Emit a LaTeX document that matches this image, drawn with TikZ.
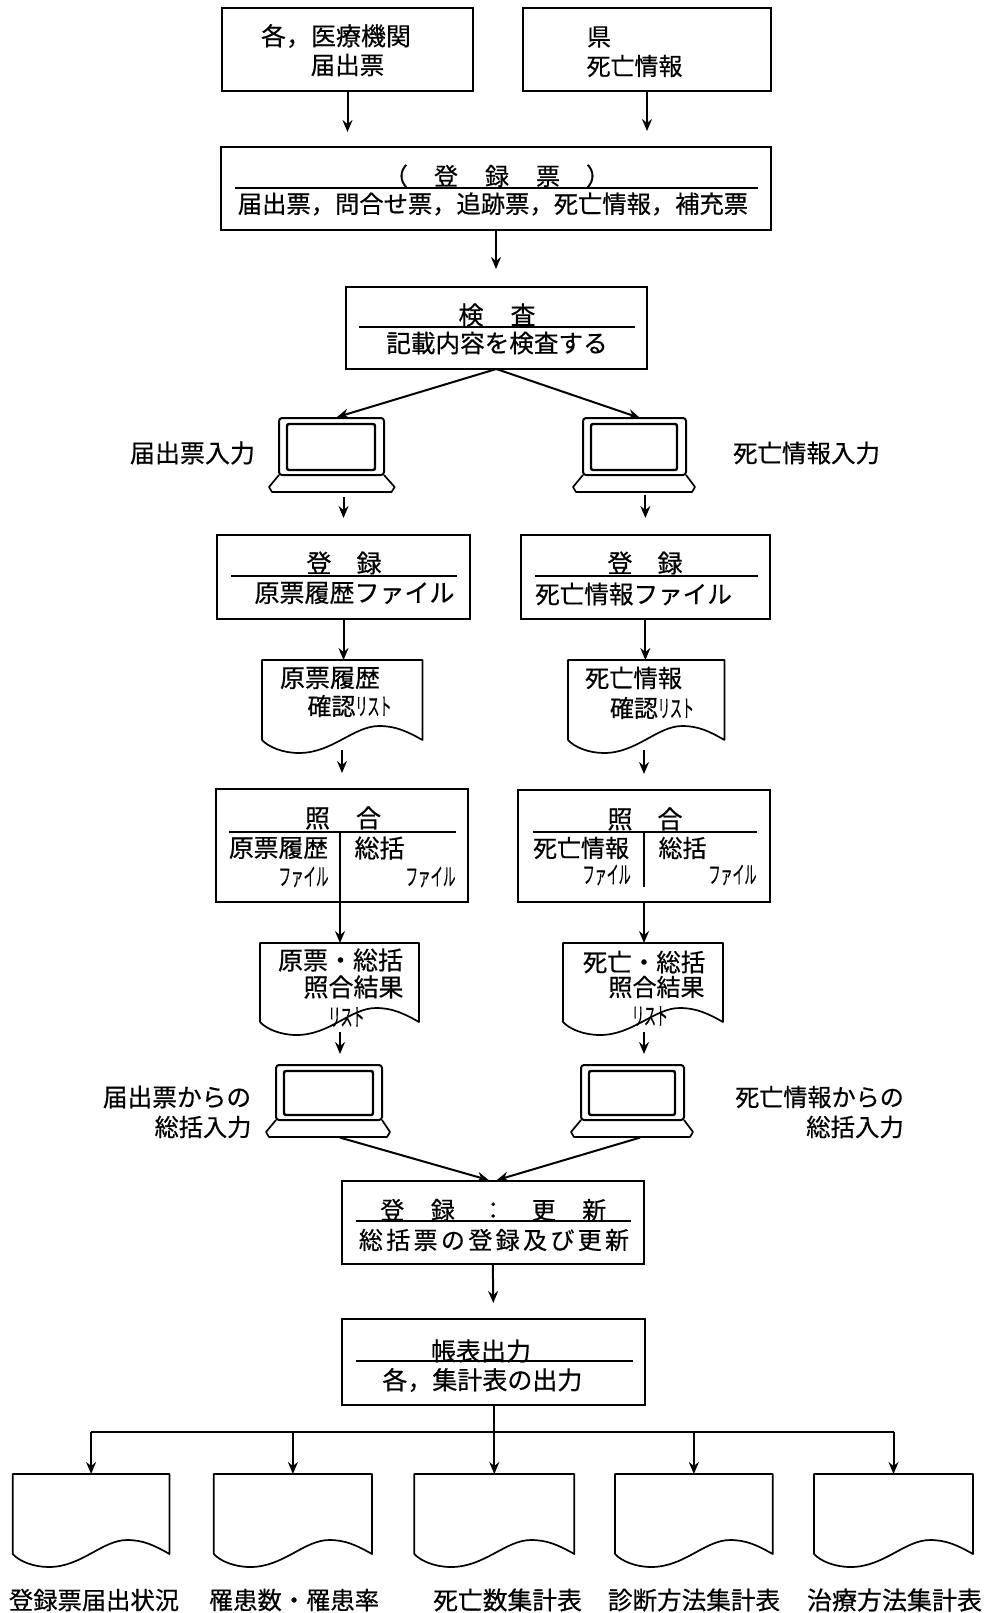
\documentclass[tikz,border=0pt]{standalone}
\usepackage{fontspec}
\usepackage{graphicx}
\setmainfont{Noto Sans CJK JP}[FakeBold=0.5]
\usetikzlibrary{arrows.meta,calc}
\newcommand{\fs}[1]{\fontsize{#1pt}{#1pt}\selectfont}
\newcommand{\nar}[2]{\scalebox{#1}[1]{#2}}
\newcommand{\gp}[1]{\hspace{#1pt}}
\newcommand{\bx}[5]{%
  \pgfmathsetmacro\myw{#3-#2}\pgfmathsetmacro\myh{#5-#4}%
  \node[box,minimum width=\myw pt,minimum height=\myh pt,anchor=north west] (#1) at (#2,#4) {};}
\newcommand{\docnode}[5]{%
  \pgfmathsetmacro\myw{#3-#2}\pgfmathsetmacro\myh{#5-#4+10}\pgfmathsetmacro\myr{(#3-#2)/100}\pgfmathsetmacro\myt{#4-#5}%
  \node[inner sep=0pt,outer sep=0pt,minimum width=\myw pt,minimum height=\myh pt,anchor=north west] (#1) at (#2,#4) {};
  \begin{scope}[shift={(#2,#5)},xscale=\myr]
    \draw[docline] (0,0) -- (0,\myt) -- (100,\myt) -- (100,0)
      .. controls (90,-9) and (83,-14) .. (73,-14)
      .. controls (57,-14) and (44,13) .. (23,13)
      .. controls (13,13) and (4,7) .. (0,0);
  \end{scope}}
\newcommand{\pcnode}[7]{% name x1 x2 top h bx1 bx2
  \pgfmathsetmacro\myw{#3-#2}\pgfmathsetmacro\mysw{#3-#2-17}\pgfmathsetmacro\mysh{#5-11}%
  \pgfmathsetmacro\mym{#4+#5}\pgfmathsetmacro\myma{#4+#5+12}\pgfmathsetmacro\mymb{#4+#5+17}\pgfmathsetmacro\myc{(#2+#3)/2}%
  \pgfmathsetmacro\myl{#6+3}\pgfmathsetmacro\myrr{#7-3}\pgfmathsetmacro\mysx{#2+8}\pgfmathsetmacro\mysy{#4+6}%
  \node[monitor,minimum width=\myw pt,minimum height=#5 pt,anchor=north west] (#1) at (#2,#4) {};
  \node[screen,minimum width=\mysw pt,minimum height=\mysh pt,anchor=north west] (#1s) at (\mysx,\mysy) {};
  \draw[pcline] (#2,\mym) -- (#6,\myma) -- (\myl,\mymb) -- (\myrr,\mymb) -- (#7,\myma) -- (#3,\mym);
  \coordinate (#1b) at (\myc,\mymb);}
\tikzset{
  box/.style={draw=black,line width=2pt,inner sep=0pt,outer sep=0pt,fill=white},
  monitor/.style={draw=black,line width=2pt,inner sep=0pt,outer sep=0pt,rounded corners=3pt},
  screen/.style={draw=black,line width=2.4pt,inner sep=0pt,outer sep=0pt,rounded corners=2pt},
  pcline/.style={draw=black,line width=1.7pt,line join=round},
  docline/.style={draw=black,line width=1.7pt,line join=round},
  inrule/.style={draw=black,line width=1.6pt},
  wire/.style={draw=black,line width=2pt},
  arr/.style={draw=black,line width=2pt,-{Stealth[length=12pt,width=10pt,inset=4pt]}},
  jp/.style={inner sep=0pt,outer sep=0pt,anchor=center,text=black}
}
\begin{document}
\begin{tikzpicture}[x=1pt,y=-1pt]
\useasboundingbox[fill=white] (0,0) rectangle (991,1613);
% boxes
\bx{A}{222}{473}{8}{91}
\bx{B}{523}{771}{8}{91}
\bx{C}{221}{771}{147}{230}
\bx{D}{345.6}{647}{287}{369}
\bx{E}{217}{470}{535}{619}
\bx{F}{520.7}{770}{535}{619}
\bx{I}{216}{468}{789}{902}
\bx{J}{518}{770}{790}{902}
\bx{M}{341.6}{644}{1181}{1264}
\bx{N}{342}{645}{1319}{1405}
% documents
\docnode{G}{262}{422.5}{660}{740}
\docnode{H}{568}{724.5}{660}{740}
\docnode{K}{260}{419}{943}{1022}
\docnode{L}{563}{723}{943}{1022}
\docnode{P1}{12.7}{169.5}{1474}{1554}
\docnode{P2}{213.8}{372}{1474}{1554}
\docnode{P3}{414.3}{574.3}{1474}{1554}
\docnode{P4}{615}{772.7}{1474}{1554}
\docnode{P5}{814}{973}{1474}{1554}
% terminals
\pcnode{PCa}{279}{384}{418}{57}{269}{394.6}
\pcnode{PCb}{583}{686}{418}{57}{573}{695}
\pcnode{PCc}{276}{382}{1065}{55}{266}{390}
\pcnode{PCd}{581}{684}{1065}{55}{571}{693}
% inner rules
\draw[inrule] (234.5,188) -- (758,188);
\draw[inrule] (359,327) -- (635,327);
\draw[inrule] (230.5,576) -- (457,576);
\draw[inrule] (535,576) -- (758,576);
\draw[inrule] (229,832) -- (456,832);
\draw[inrule] (533,832) -- (757,832);
\draw[inrule] (355.5,1221) -- (631,1221);
\draw[inrule] (356,1361) -- (632.5,1361);
\coordinate (divI) at (340,832);
\coordinate (divJ) at (644,832);
\coordinate (divJe) at (644,887);
\coordinate (bus) at (493.5,1432);
\draw[inrule] (divI) -- (I.south -| divI);
\draw[inrule] (divJ) -- (divJe);
% connectors
\draw[arr,shorten >=15pt] (A.south) -- (A.south |- C.north);
\draw[arr,shorten >=16pt] (B.south) -- (B.south |- C.north);
\draw[arr,shorten >=18pt] (C.south) -- (C.south |- D.north);
\draw[arr,shorten >=3pt] (D.south) -- ([xshift=2.5pt]PCa.north);
\draw[arr] (D.south) -- ([xshift=5.5pt]PCb.north);
\draw[arr,shorten <=5pt,shorten >=17pt] (E.north |- PCab) -- (E.north);
\draw[arr,shorten <=3pt,shorten >=17pt] (F.north |- PCbb) -- (F.north);
\draw[arr] (E.south) -- (E.south |- G.north);
\draw[arr] (F.south) -- (F.south |- H.north);
\draw[arr,shorten >=16pt] (G.south -| I.north) -- (I.north);
\draw[arr,shorten >=16pt] (H.south -| J.north) -- (J.north);
\draw[arr] (I.south -| divI) -- (K.north -| divI);
\draw[arr] (J.south -| divJ) -- (L.north -| divJ);
\draw[arr,shorten >=11pt] (K.south -| divI) -- (PCc.north -| divI);
\draw[arr,shorten >=11pt] (L.south -| divJ) -- (PCd.north -| divJ);
\draw[arr,shorten <=2pt,shorten >=3pt] ([xshift=9pt]PCcb) -- ([xshift=-1pt]M.north);
\draw[arr,shorten <=2pt,shorten >=3pt] ([xshift=9.5pt]PCdb) -- ([xshift=1pt]M.north);
\draw[arr,shorten >=16pt] (M.south) -- (N.north);
\draw[wire] (N.south) -- (bus);
\draw[wire] (bus -| P1.north) -- (bus -| P5.north);
\draw[arr] (bus -| P1.north) -- (P1.north);
\draw[arr] (bus -| P2.north) -- (P2.north);
\draw[arr] (bus -| P3.north) -- (P3.north);
\draw[arr] (bus -| P4.north) -- (P4.north);
\draw[arr] (bus -| P5.north) -- (P5.north);
% texts
\node[jp,font=\fs{25}] (tA1) at (336,36) {各，医療機関};
\node[jp,font=\fs{24.5}] (tA2) at (347.5,65) {届出票};
\node[jp,font=\fs{24}] (tB1) at (599,37) {県};
\node[jp,font=\fs{24}] (tB2) at (634.5,66) {死亡情報};
\node[jp,font=\fs{24}] (tC1) at (497,176) {（\gp{26}登\gp{27}録\gp{27}票\gp{26}）};
\node[jp,font=\fs{24.3}] (tC2) at (493,204) {届出票，問合せ票，追跡票，死亡情報，補充票};
\node[jp,font=\fs{25}] (tD1) at (497,315) {検\gp{27}査};
\node[jp,font=\fs{24.6}] (tD2) at (497,343) {記載内容を検査する};
\node[jp,font=\fs{25}] (tL1) at (192.5,453) {届出票入力};
\node[jp,font=\fs{24.5}] (tL2) at (806.5,453) {死亡情報入力};
\node[jp,font=\fs{25}] (tE1) at (344,563) {登\gp{25}録};
\node[jp,font=\fs{25}] (tE2) at (354.5,593) {原票履歴ファイル};
\node[jp,font=\fs{25}] (tF1) at (645,563) {登\gp{25}録};
\node[jp,font=\fs{24.6}] (tF2) at (633.5,594) {死亡情報ファイル};
\node[jp,font=\fs{25}] (tG1) at (330,678) {原票履歴};
\node[jp,font=\fs{24}] (tG2) at (349.5,706) {確認\nar{0.5}{リスト}};
\node[jp,font=\fs{24.3}] (tH1) at (633.5,678) {死亡情報};
\node[jp,font=\fs{24}] (tH2) at (652,708) {確認\nar{0.5}{リスト}};
\node[jp,font=\fs{25}] (tI1) at (343,818) {照\gp{26}合};
\node[jp,font=\fs{24.8}] (tI2) at (278.5,848) {原票履歴};
\node[jp,font=\fs{25}] (tI3) at (379.5,848) {総括};
\node[jp,font=\fs{24}] (tI4) at (303.5,877) {\nar{0.52}{ファイル}};
\node[jp,font=\fs{24}] (tI5) at (430.5,877) {\nar{0.52}{ファイル}};
\node[jp,font=\fs{25}] (tJ1) at (645,819) {照\gp{25}合};
\node[jp,font=\fs{24}] (tJ2) at (581,848) {死亡情報};
\node[jp,font=\fs{24}] (tJ3) at (682.5,848) {総括};
\node[jp,font=\fs{24}] (tJ4) at (606.7,875) {\nar{0.5}{ファイル}};
\node[jp,font=\fs{24}] (tJ5) at (732.5,875) {\nar{0.5}{ファイル}};
\node[jp,font=\fs{25}] (tK1) at (340.5,960) {原票・総括};
\node[jp,font=\fs{25}] (tK2) at (353.5,987) {照合結果};
\node[jp,font=\fs{24}] (tK3) at (346.5,1017) {\nar{0.5}{リスト}};
\node[jp,font=\fs{24.5}] (tL3) at (644,962) {死亡・総括};
\node[jp,font=\fs{24}] (tL4) at (656.5,987) {照合結果};
\node[jp,font=\fs{24}] (tL5) at (650,1016) {\nar{0.5}{リスト}};
\node[jp,font=\fs{24.7}] (tP1) at (177,1097) {届出票からの};
\node[jp,font=\fs{24.2}] (tP2) at (203,1127) {総括入力};
\node[jp,font=\fs{24.1}] (tQ1) at (819.5,1097) {死亡情報からの};
\node[jp,font=\fs{24.4}] (tQ2) at (855,1127) {総括入力};
\node[jp,font=\fs{24}] (tM1) at (493.3,1210) {登\gp{26.5}録\gp{26.5}：\gp{26.5}更\gp{26.5}新};
\node[jp,font=\fs{24}\addfontfeature{LetterSpace=14}] (tM2) at (494,1240) {総括票の登録及び更新};
\node[jp,font=\fs{25}] (tN1) at (481,1351) {帳表出力};
\node[jp,font=\fs{25}] (tN2) at (482.4,1380) {各，集計表の出力};
\node[jp,font=\fs{24.3}] (tR1) at (94,1600) {登録票届出状況};
\node[jp,font=\fs{24.3}] (tR2) at (294,1600) {罹患数・罹患率};
\node[jp,font=\fs{24.8}] (tR3) at (507.5,1600) {死亡数集計表};
\node[jp,font=\fs{24.6}] (tR4) at (694,1600) {診断方法集計表};
\node[jp,font=\fs{25}] (tR5) at (894.5,1600) {治療方法集計表};
\end{tikzpicture}
\end{document}
